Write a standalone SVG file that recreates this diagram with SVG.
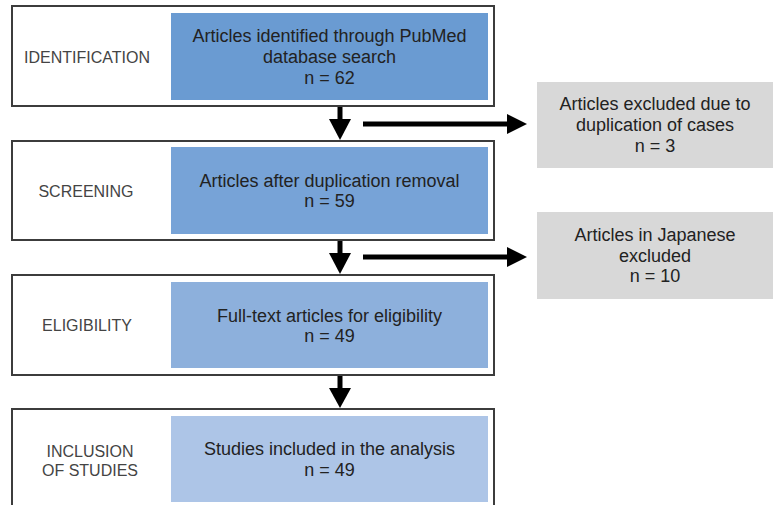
<svg xmlns="http://www.w3.org/2000/svg" width="776" height="505" viewBox="0 0 776 505">
<style>
.outer{fill:#fff;stroke:#3c3c3c;stroke-width:2}
.lbl{font-family:"Liberation Sans",Arial,sans-serif;font-size:16px;fill:#444;text-anchor:middle}
.txt{font-family:"Liberation Sans",Arial,sans-serif;font-size:18px;fill:#222;text-anchor:middle}
.grey{fill:#d8d8d8}
.conn{stroke:#000;stroke-width:5;fill:none}
.head{fill:#000}
</style>
<rect width="776" height="505" fill="#fff"/>
<g id="identification">
<rect class="outer" x="12" y="6" width="482" height="100"/>
<text class="lbl" x="87" y="63">IDENTIFICATION</text>
<rect x="171" y="13" width="317" height="87" fill="#6a9bd2"/>
<text class="txt" x="329.5" y="42">Articles identified through PubMed</text>
<text class="txt" x="329.5" y="63">database search</text>
<text class="txt" x="329.5" y="84">n = 62</text>
</g>
<g id="screening">
<rect class="outer" x="12" y="141" width="482" height="99"/>
<text class="lbl" x="86" y="197">SCREENING</text>
<rect x="171" y="147" width="317" height="87" fill="#77a3d7"/>
<text class="txt" x="329.5" y="187">Articles after duplication removal</text>
<text class="txt" x="329.5" y="207">n = 59</text>
</g>
<g id="eligibility">
<rect class="outer" x="12" y="275" width="482" height="100"/>
<text class="lbl" x="87" y="331">ELIGIBILITY</text>
<rect x="171" y="282" width="317" height="86" fill="#8db0dc"/>
<text class="txt" x="329.5" y="322">Full-text articles for eligibility</text>
<text class="txt" x="329.5" y="342">n = 49</text>
</g>
<g id="inclusion">
<rect class="outer" x="12" y="409" width="482" height="110"/>
<text class="lbl" x="90" y="457">INCLUSION</text>
<text class="lbl" x="90" y="476">OF STUDIES</text>
<rect x="171" y="416" width="317" height="86" fill="#adc5e7"/>
<text class="txt" x="329.5" y="455">Studies included in the analysis</text>
<text class="txt" x="329.5" y="476">n = 49</text>
</g>
<g id="excluded-duplicates">
<rect class="grey" x="537" y="82" width="236" height="86"/>
<text class="txt" x="655" y="110">Articles excluded due to</text>
<text class="txt" x="655" y="131">duplication of cases</text>
<text class="txt" x="655" y="152">n = 3</text>
</g>
<g id="excluded-japanese">
<rect class="grey" x="537" y="212" width="236" height="87"/>
<text class="txt" x="655" y="241">Articles in Japanese</text>
<text class="txt" x="655" y="262">excluded</text>
<text class="txt" x="655" y="282">n = 10</text>
</g>
<g id="connectors">
<line class="conn" x1="340" y1="107" x2="340" y2="120"/>
<polygon class="head" points="329,119 351,119 340,140"/>
<line class="conn" x1="363" y1="124" x2="509" y2="124"/>
<polygon class="head" points="507,114 527,124 507,134"/>
<line class="conn" x1="340" y1="241" x2="340" y2="254"/>
<polygon class="head" points="329,253 351,253 340,274"/>
<line class="conn" x1="363" y1="257" x2="509" y2="257"/>
<polygon class="head" points="507,247 527,257 507,267"/>
<line class="conn" x1="340" y1="376" x2="340" y2="389"/>
<polygon class="head" points="329,388 351,388 340,408"/>
</g>
</svg>
